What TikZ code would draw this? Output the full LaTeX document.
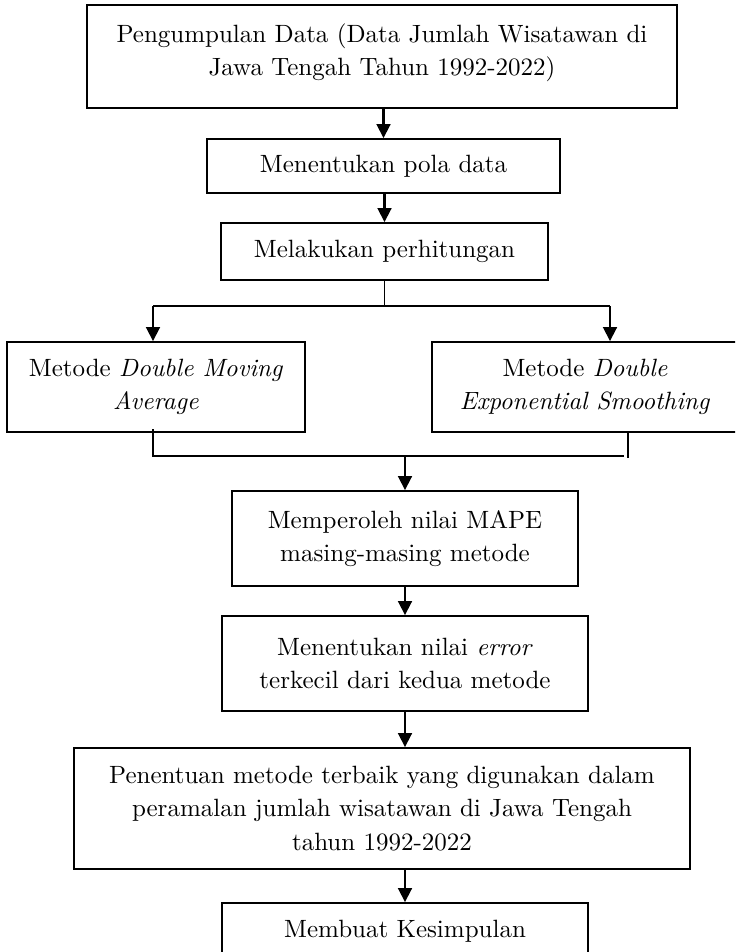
\documentclass[tikz,border=0pt]{standalone}
\usetikzlibrary{arrows.meta}
\begin{document}
\begin{tikzpicture}[x=0.4pt,y=-0.4pt,
  box/.style={draw, line width=0.65pt, inner sep=0pt, align=center, font=\fontsize{10}{13.4}\selectfont},
  txt/.style={inner sep=0pt, align=center, font=\fontsize{10}{13.4}\selectfont},
  arr/.style={line width=1.15pt, -{Triangle[width=5.4pt,length=5.6pt]}},
  thinline/.style={line width=0.55pt}]
\useasboundingbox (0,0) rectangle (735,952);
\clip (0,0) rectangle (735,952);
% boxes
\node[box, minimum width=236pt, minimum height=41.2pt] (b1) at (382,56.5) {};
\node[txt, anchor=north] (b1t) at (382,23) {Pengumpulan Data (Data Jumlah Wisatawan di\\Jawa Tengah Tahun 1992-2022)};
\node[box, minimum width=141.2pt, minimum height=21.6pt] (b2) at (383.5,166) {Menentukan pola data};
\node[box, minimum width=130.8pt, minimum height=22.8pt] (b3) at (384.5,251.5) {Melakukan perhitungan};
\node[box, minimum width=119.2pt, minimum height=36pt] (b4L) at (156,387) {Metode \textit{Double Moving}\\\textit{Average}};
\node[box, minimum width=122.4pt, minimum height=36pt] (b4R) at (585,387) {Metode \textit{Double}\\\textit{Exponential Smoothing}};
\node[box, minimum width=138.4pt, minimum height=38pt] (b5) at (405,538.5) {Memperoleh nilai MAPE\\masing-masing metode};
\node[box, minimum width=146.4pt, minimum height=38pt] (b6) at (405,663.5) {Menentukan nilai \textit{error}\\terkecil dari kedua metode};
\node[box, minimum width=246.4pt, minimum height=48.4pt] (b7) at (382,808.5) {Penentuan metode terbaik yang digunakan dalam\\peramalan jumlah wisatawan di Jawa Tengah\\tahun 1992-2022};
\node[box, minimum width=146.4pt, minimum height=22.8pt] (b8) at (405,931.5) {Membuat Kesimpulan};
% connectors
\draw[arr] (b1.south -| b2) -- (b2.north);
\draw[arr] (b2.south -| b3) -- (b3.north);
\coordinate (br) at (384.5,306);
\coordinate (brL) at (153,306);
\coordinate (brR) at (610,306);
\draw[thinline] (b3.south) -- (br);
\draw[thinline] (brL) -- (brR);
\draw[arr] (brL) -- (brL |- b4L.north);
\draw[arr] (brR) -- (brR |- b4R.north);
\coordinate (mLtop) at (153,429);
\coordinate (mL) at (153,456);
\coordinate (mR) at (624,456);
\coordinate (mRb) at (628,458);
\coordinate (mC) at (405,456);
\draw[thinline] (mLtop) -- (mL) -- (mR);
\draw[thinline] (b4R.south -| mRb) -- (mRb);
\draw[arr] (mC) -- (b5.north);
\draw[arr] (b5.south) -- (b6.north);
\draw[arr] (b6.south) -- (b6.south |- b7.north);
\draw[arr] (b7.south -| b8) -- (b8.north);
\end{tikzpicture}
\end{document}
